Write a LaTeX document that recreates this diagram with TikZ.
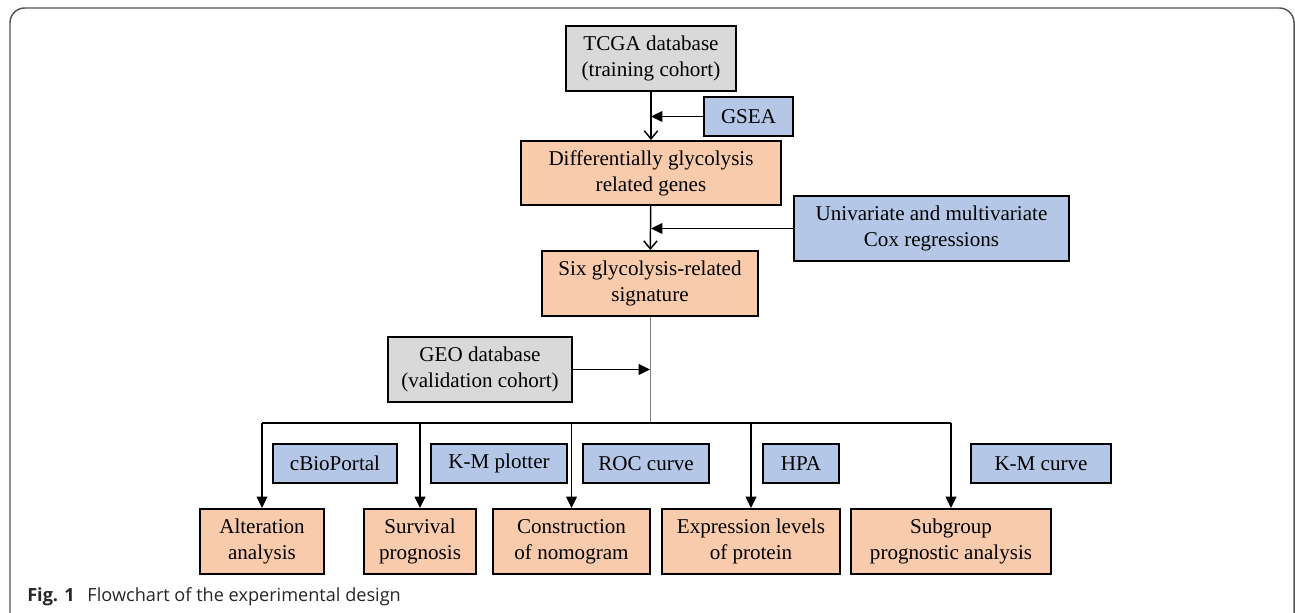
\documentclass[tikz,border=0pt]{standalone}
\usepackage{fontspec}
\setmainfont{Liberation Serif}
\newfontfamily\capfont{Open Sans}
\usetikzlibrary{arrows.meta}
\definecolor{gfill}{HTML}{D9D9D9}
\definecolor{ofill}{HTML}{F8CBAD}
\definecolor{bfill}{HTML}{B4C7E7}
\definecolor{framec}{HTML}{555555}
\tikzset{
  box/.style={draw=black, line width=1.5pt, inner sep=0pt, align=center,
    font=\fontsize{15.8}{19.5}\selectfont},
  gbox/.style={box, fill=gfill},
  obox/.style={box, fill=ofill},
  bbox/.style={box, fill=bfill},
  conn/.style={line width=1.1pt, black},
  fa/.style={conn, -{Triangle[length=8.5pt,width=8pt]}},
  oa/.style={conn, -{Straight Barb[length=6pt,width=10pt,line width=1.1pt]}},
}
\newcommand{\bx}[7]{\node[#2, minimum width={(#5-#3)*0.75pt}, minimum height={(#6-#4)*0.75pt}] (#1) at ({(#3+#5)/2},{(#4+#6)/2}) {#7};}
\begin{document}
\begin{tikzpicture}[x=0.75pt,y=-0.75pt]
\useasboundingbox (0,0) rectangle (1295,613);
% frame
\draw[framec, line width=1.1pt, rounded corners=11pt] (10,640) -- (10,8) -- (1294,8) -- (1294,640);
% top chain
\bx{tcga}{gbox}{566}{26}{736}{91}{TCGA database\\(training cohort)}
\bx{gsea}{bbox}{704}{97}{793}{136}{GSEA}
\bx{diff}{obox}{521}{141}{781}{205}{Differentially glycolysis\\related genes}
\bx{cox}{bbox}{794}{196}{1069}{261}{Univariate and multivariate\\Cox regressions}
\bx{six}{obox}{542}{251}{758}{316}{Six glycolysis-related\\signature}
\bx{geo}{gbox}{388}{337}{572}{402}{GEO database\\(validation cohort)}
% bottom row
\bx{alt}{obox}{200}{509}{324}{574}{Alteration\\analysis}
\bx{surv}{obox}{364}{509}{476}{574}{Survival\\prognosis}
\bx{cons}{obox}{493}{509}{650}{574}{Construction\\of nomogram}
\bx{expr}{obox}{662}{509}{840}{574}{Expression levels\\of protein}
\bx{subg}{obox}{851}{509}{1051}{574}{Subgroup\\prognostic analysis}
% blue tools
\bx{cbio}{bbox}{273}{444}{397}{483}{cBioPortal}
\bx{kmp}{bbox}{431}{444}{567}{483}{K-M plotter}
\bx{roc}{bbox}{583}{444}{709}{483}{ROC curve}
\bx{hpa}{bbox}{763}{444}{839}{483}{HPA}
\bx{kmc}{bbox}{971}{444}{1111}{483}{K-M curve}
% connectors
\draw[oa] (tcga) -- (diff);
\draw[fa] (gsea) -- (gsea -| tcga.south);
\draw[oa] (diff) -- (six);
\draw[fa] (cox) -- (cox -| diff.south);
\coordinate (bus) at (six.south |- 0,423);
\draw[gray, line width=0.7pt] (six) -- (bus);
\draw[fa] (geo) -- (geo -| bus);
\draw[conn] (alt.north |- bus) -- (subg.north |- bus);
\draw[fa] (alt.north |- bus) -- (alt.north);
\draw[fa] (surv.north |- bus) -- (surv.north);
\draw[fa] (cons.north |- bus) -- (cons.north);
\draw[fa] (expr.north |- bus) -- (expr.north);
\draw[fa] (subg.north |- bus) -- (subg.north);
% caption
\node[anchor=west, inner sep=0pt, font=\capfont\fontsize{13.6}{15}\selectfont, text=black!85] (cap) at (27,597) {\textbf{Fig. 1}\hspace{0.7em}Flowchart of the experimental design};
\end{tikzpicture}
\end{document}
